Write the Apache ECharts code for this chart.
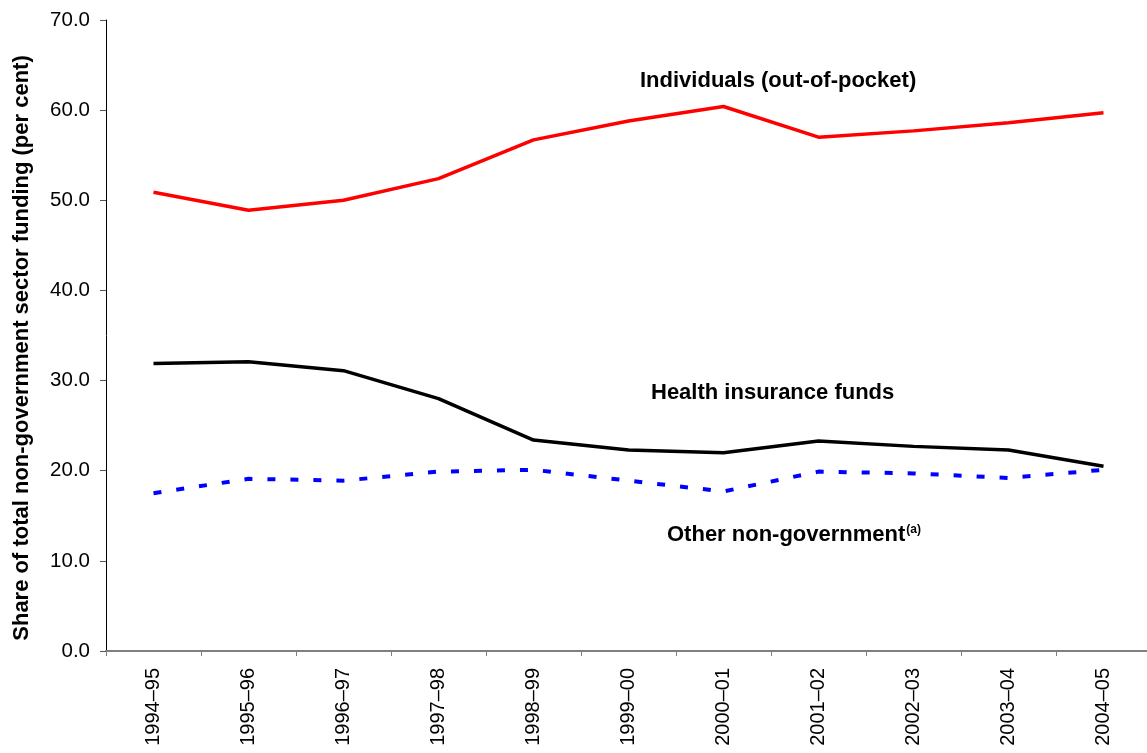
<!DOCTYPE html>
<html>
<head>
<meta charset="utf-8">
<script src="https://cdn.jsdelivr.net/npm/echarts@6/dist/echarts.min.js"></script>
<style>
html,body{margin:0;padding:0;background:#fff;}
#chart{width:1147px;height:753px;}
</style>
</head>
<body>
<div id="chart"></div>
<script>
const categories = ['1994–95','1995–96','1996–97','1997–98','1998–99','1999–00','2000–01','2001–02','2002–03','2003–04','2004–05'];
const individuals = [50.9, 48.9, 50.0, 52.4, 56.7, 58.8, 60.4, 57.0, 57.7, 58.6, 59.7];
const healthInsurance = [31.9, 32.1, 31.1, 28.0, 23.4, 22.3, 22.0, 23.3, 22.7, 22.3, 20.5];
const otherNonGov = [17.5, 19.1, 18.9, 19.9, 20.1, 18.9, 17.7, 19.9, 19.7, 19.2, 20.1];
const yTicks = [0, 10, 20, 30, 40, 50, 60, 70];

const chart = echarts.init(document.getElementById('chart'), null, {renderer: 'canvas'});
const font = 'Liberation Sans, Arial, sans-serif';
chart.setOption({
  animation: false,
  backgroundColor: '#fff',
  grid: {left: 106, top: 20, width: 1045, bottom: 102, containLabel: false, outerBoundsMode: 'none'},
  xAxis: {
    type: 'category',
    data: categories,
    boundaryGap: true,
    axisLine: {lineStyle: {color: '#808080', width: 2}},
    axisTick: {show: true, length: 5, lineStyle: {color: '#808080', width: 1}},
    axisLabel: {rotate: 90, margin: 17, fontFamily: font, fontSize: 20, color: '#000', interval: 0},
    splitLine: {show: false}
  },
  yAxis: {
    type: 'value',
    min: yTicks[0], max: yTicks[yTicks.length - 1], interval: 10,
    axisLine: {show: true, lineStyle: {color: '#000', width: 1}},
    axisTick: {show: true, length: 6, lineStyle: {color: '#555'}},
    axisLabel: {margin: 16, fontFamily: font, fontSize: 20.5, color: '#000', formatter: v => v.toFixed(1)},
    splitLine: {show: false}
  },
  series: [
    {type: 'line', name: 'Individuals (out-of-pocket)', data: individuals, symbol: 'none',
     lineStyle: {color: '#ff0000', width: 3.5}},
    {type: 'line', name: 'Health insurance funds', data: healthInsurance, symbol: 'none',
     lineStyle: {color: '#000000', width: 3.5}},
    {type: 'line', name: 'Other non-government', data: otherNonGov, symbol: 'none',
     lineStyle: {color: '#0000ff', width: 4, type: [8, 15], cap: 'butt'}}
  ],
  graphic: [
    {type: 'text', x: 22, y: 348, rotation: Math.PI / 2,
     style: {text: 'Share of total non-government sector funding (per cent)', font: 'bold 22px ' + font, fill: '#000', align: 'center', verticalAlign: 'middle'}},
    {type: 'text', x: 640, y: 81, style: {text: 'Individuals (out-of-pocket)', font: 'bold 22px ' + font, fill: '#000', verticalAlign: 'middle'}},
    {type: 'text', x: 651, y: 393, style: {text: 'Health insurance funds', font: 'bold 22px ' + font, fill: '#000', verticalAlign: 'middle'}},
    {type: 'text', x: 667, y: 535, style: {
      text: '{m|Other non-government}{s|(a)}',
      verticalAlign: 'middle',
      rich: {
        m: {fontFamily: font, fontSize: 22, fontWeight: 'bold', color: '#000'},
        s: {fontFamily: font, fontSize: 12, fontWeight: 'bold', color: '#000', verticalAlign: 'top', padding: [0, 0, 10, 1]}
      }
    }}
  ]
});
</script>
</body>
</html>
